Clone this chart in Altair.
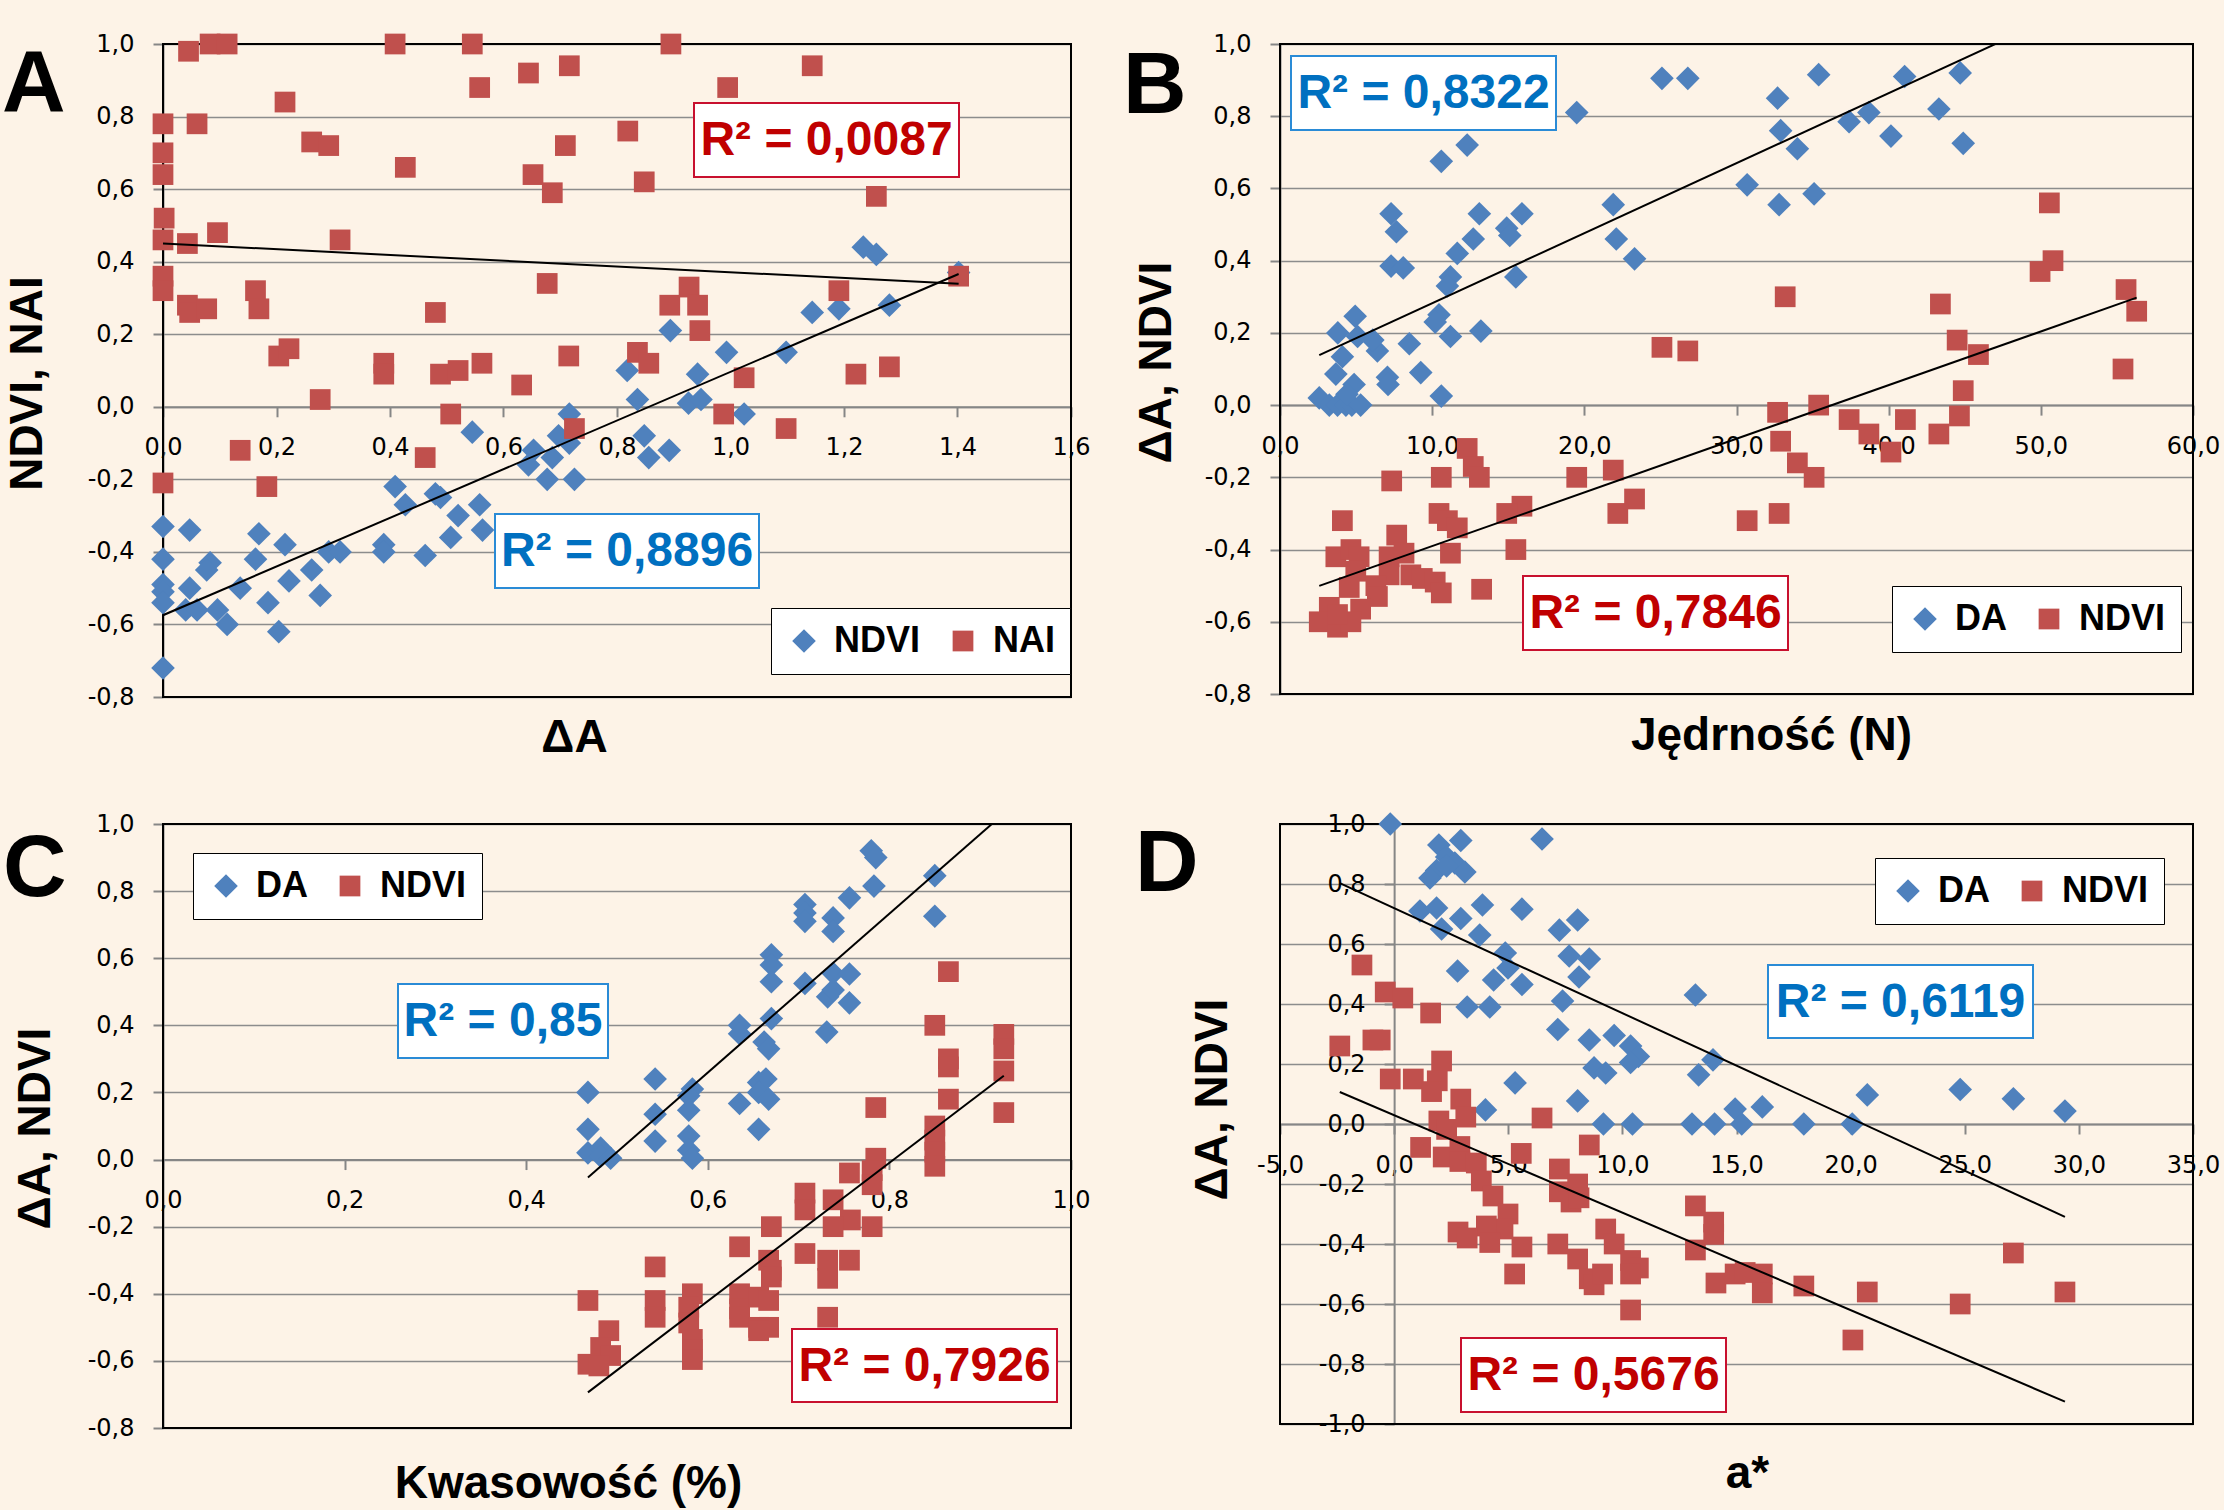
import altair as alt
import pandas as pd

# ---------------- data ----------------
# Panel A: x = ΔA, y = NDVI / NAI
a_ndvi_x = [0.894,0.818,0.836,0.716,0.697,0.716,0.848,0.856,0.892,0.545,0.653,0.644,0.686,0.677,0.725,
            0.409,0.427,0.48,0.489,0.558,0.52,0.563,0.507,0.389,0.389,0.462,0.292,0.312,0.0,0.047,0.169,
            0.215,0.163,0.083,0.077,0.0,0.262,0.222,0.136,0.047,0.0,0.0,0.0,0.277,0.185,0.04,0.06,0.096,
            0.113,0.204,0.0,1.234,1.257,1.402,1.28,1.144,1.191,1.098,0.993,0.942,0.926,0.948,1.024]
a_ndvi_y = [0.21,0.10,0.02,-0.02,-0.08,-0.10,-0.08,-0.14,-0.12,-0.07,-0.12,-0.16,-0.14,-0.20,-0.20,
            -0.22,-0.27,-0.24,-0.25,-0.27,-0.30,-0.34,-0.36,-0.38,-0.40,-0.41,-0.40,-0.40,-0.33,-0.34,-0.35,
            -0.38,-0.42,-0.43,-0.45,-0.42,-0.45,-0.48,-0.50,-0.50,-0.49,-0.51,-0.54,-0.52,-0.54,-0.56,-0.56,-0.56,
            -0.60,-0.62,-0.72,0.44,0.42,0.37,0.28,0.26,0.27,0.15,0.15,0.09,0.01,0.02,-0.02]
a_nai_x = [0.045,0.083,0.113,0.409,0.545,0.895,0.644,0.558,0.716,0.995,1.144,0.215,0.0,0.06,0.0,0.0,
           0.262,0.292,0.427,0.819,0.709,0.652,0.686,0.848,1.257,0.002,0.0,0.043,0.096,0.312,0.0,0.0,
           0.043,0.047,0.077,0.163,0.169,0.677,0.48,0.893,0.927,0.942,0.946,1.191,1.402,0.204,0.222,0.389,
           0.389,0.489,0.52,0.562,0.715,0.836,0.856,0.632,0.277,1.024,1.221,1.28,0.507,0.988,0.725,1.098,
           0.136,0.462,0.183,0.0]
a_nai_y = [0.98,1.0,1.0,1.0,1.0,1.0,0.92,0.88,0.94,0.88,0.94,0.84,0.78,0.78,0.70,0.64,
           0.73,0.72,0.66,0.76,0.72,0.64,0.59,0.62,0.58,0.52,0.46,0.45,0.48,0.46,0.36,0.32,
           0.28,0.26,0.27,0.32,0.27,0.34,0.26,0.28,0.33,0.28,0.21,0.32,0.36,0.14,0.16,0.12,
           0.09,0.09,0.10,0.12,0.14,0.15,0.12,0.06,0.02,0.08,0.09,0.11,-0.02,-0.02,-0.06,-0.06,
           -0.12,-0.14,-0.22,-0.21]

# Panel B: x = Jędrność (N)
b_da_x = [25.1,26.8,19.5,12.3,10.6,30.7,7.3,7.65,13.1,15.9,14.9,15.1,12.7,21.9,22.1,23.3,11.65,7.3,8.1,
          11.2,11.0,15.5,4.94,3.8,5.1,6.4,6.1,10.45,10.2,11.2,13.2,4.1,8.5,3.67,7.06,7.1,9.25,4.87,10.6,
          2.58,3.24,3.78,4.33,4.72,5.3,4.4,35.4,32.7,41.05,44.7,43.3,32.9,34.0,37.4,38.7,40.15,44.9,32.8,35.1]
b_da_y = [0.905,0.905,0.81,0.72,0.675,0.61,0.53,0.48,0.53,0.53,0.49,0.47,0.46,0.555,0.46,0.405,0.42,0.385,0.38,
          0.355,0.33,0.355,0.246,0.20,0.19,0.15,0.18,0.25,0.23,0.19,0.205,0.134,0.17,0.086,0.077,0.057,0.09,0.057,0.025,
          0.02,0.0,0.0,0.0,0.0,0.0,0.03,0.915,0.85,0.91,0.92,0.82,0.76,0.71,0.785,0.81,0.745,0.725,0.555,0.585]
b_ndvi_x = [25.1,26.8,12.3,12.7,13.1,10.6,7.34,19.5,21.9,23.3,22.2,15.9,14.9,15.5,10.45,11.0,11.65,11.2,4.1,
            7.67,13.25,3.67,4.66,5.2,7.17,8.15,4.98,7.17,8.6,9.35,10.2,10.6,6.3,4.55,6.4,5.3,3.24,2.58,3.78,
            4.66,3.78,50.56,50.8,49.95,55.6,56.3,55.4,33.2,43.4,44.5,45.9,44.9,44.65,43.3,35.4,32.7,32.9,34.0,
            35.1,37.4,38.7,40.15,41.1,30.7,32.8]
b_ndvi_y = [0.16,0.15,-0.12,-0.17,-0.20,-0.20,-0.21,-0.20,-0.18,-0.26,-0.30,-0.28,-0.30,-0.40,-0.30,-0.32,-0.34,-0.41,-0.32,
            -0.36,-0.51,-0.42,-0.40,-0.42,-0.42,-0.41,-0.46,-0.47,-0.47,-0.48,-0.49,-0.52,-0.50,-0.505,-0.53,-0.565,-0.56,-0.60,-0.615,
            -0.60,-0.58,0.56,0.40,0.37,0.32,0.26,0.10,0.30,0.28,0.18,0.14,0.04,-0.03,-0.08,0.0,-0.02,-0.10,-0.16,
            -0.20,-0.04,-0.08,-0.13,-0.04,-0.32,-0.30]

# Panel C: x = Kwasowość (%)
c_da_x = [0.780,0.785,0.85,0.85,0.783,0.756,0.707,0.707,0.707,0.738,0.738,0.67,0.67,0.67,0.707,0.738,0.756,
          0.732,0.738,0.756,0.731,0.67,0.635,0.635,0.662,0.667,0.542,0.583,0.579,0.579,0.635,0.656,0.664,0.656,
          0.667,0.656,0.542,0.542,0.468,0.468,0.468,0.482,0.482,0.493,0.579,0.579,0.583]
c_da_y = [0.92,0.90,0.846,0.725,0.815,0.78,0.76,0.735,0.71,0.72,0.68,0.61,0.58,0.53,0.525,0.555,0.553,
          0.485,0.505,0.467,0.38,0.42,0.40,0.375,0.35,0.33,0.24,0.21,0.19,0.147,0.167,0.23,0.24,0.20,
          0.18,0.09,0.135,0.055,0.20,0.09,0.02,0.034,0.01,0.004,0.07,0.028,0.004]
c_ndvi_x = [0.865,0.85,0.926,0.926,0.926,0.926,0.865,0.865,0.865,0.85,0.85,0.85,0.85,0.785,0.785,0.781,0.781,
            0.781,0.756,0.757,0.738,0.738,0.707,0.707,0.707,0.732,0.756,0.732,0.732,0.67,0.635,0.667,0.67,0.67,
            0.635,0.635,0.635,0.656,0.667,0.656,0.667,0.656,0.542,0.542,0.542,0.583,0.579,0.579,0.583,0.583,
            0.583,0.468,0.491,0.482,0.493,0.468,0.48]
c_ndvi_y = [0.56,0.40,0.373,0.33,0.264,0.14,0.30,0.276,0.18,0.10,0.058,0.022,-0.02,0.155,0.004,-0.033,-0.075,
            -0.20,-0.04,-0.18,-0.12,-0.20,-0.10,-0.15,-0.28,-0.30,-0.30,-0.354,-0.47,-0.20,-0.26,-0.30,-0.33,-0.35,
            -0.40,-0.445,-0.47,-0.41,-0.42,-0.50,-0.50,-0.51,-0.32,-0.42,-0.47,-0.40,-0.44,-0.487,-0.536,-0.566,
            -0.596,-0.42,-0.51,-0.56,-0.584,-0.61,-0.615]

# Panel D: x = a*
d_da_x = [-0.17,6.48,1.96,2.92,2.3,2.66,3.1,1.86,1.57,2.3,1.13,1.86,2.08,2.92,3.87,3.75,5.6,7.24,8.04,
          4.87,4.99,7.67,8.55,8.1,2.78,4.36,5.6,3.2,4.19,7.38,7.17,8.55,9.64,13.2,10.36,10.7,10.36,8.76,9.27,
          13.97,13.34,5.3,8.04,4.0,9.17,10.44,13.05,14.04,14.94,15.23,16.13,17.95,20.07,20.73,24.8,27.13,29.39]
d_da_y = [1.0,0.95,0.93,0.945,0.89,0.87,0.84,0.845,0.82,0.86,0.71,0.72,0.65,0.685,0.73,0.63,0.716,0.646,0.68,
          0.57,0.52,0.56,0.55,0.49,0.51,0.48,0.465,0.39,0.39,0.41,0.315,0.28,0.295,0.43,0.26,0.225,0.205,0.187,0.17,
          0.214,0.164,0.137,0.077,0.047,0.0,0.0,0.0,0.0,0.05,0.0,0.057,0.0,0.0,0.097,0.115,0.084,0.043]
d_ndvi_x = [-1.41,-0.39,0.38,1.6,-2.38,-0.93,-0.61,2.08,-0.17,0.84,1.89,1.64,2.92,3.14,6.48,1.96,2.3,1.16,2.15,2.88,
            2.88,3.6,5.57,8.55,3.82,4.33,7.24,7.24,8.04,7.75,8.1,4.99,4.77,4.04,2.8,3.2,4.19,5.6,7.17,5.28,
            9.27,9.64,8.04,8.55,8.76,9.13,10.36,10.7,10.36,10.36,13.2,14.0,14.0,13.2,14.1,14.94,15.38,16.13,16.13,
            27.13,17.95,20.73,24.8,29.39,20.1]
d_ndvi_y = [0.53,0.44,0.42,0.37,0.26,0.28,0.28,0.21,0.15,0.15,0.144,0.108,0.083,0.023,0.02,0.01,-0.018,-0.078,-0.11,-0.075,
            -0.125,-0.13,-0.098,-0.07,-0.19,-0.24,-0.15,-0.226,-0.20,-0.26,-0.246,-0.30,-0.35,-0.34,-0.36,-0.38,-0.395,-0.41,-0.40,-0.50,
            -0.35,-0.40,-0.45,-0.516,-0.536,-0.50,-0.455,-0.48,-0.50,-0.62,-0.273,-0.327,-0.368,-0.42,-0.53,-0.50,-0.495,-0.50,-0.563,
            -0.43,-0.54,-0.56,-0.60,-0.56,-0.72]

# tick values
ticks_y_08 = [-0.8, -0.6, -0.4, -0.2, 0.0, 0.2, 0.4, 0.6, 0.8, 1.0]
ticks_y_10 = [-1.0, -0.8, -0.6, -0.4, -0.2, 0.0, 0.2, 0.4, 0.6, 0.8, 1.0]
ticks_x_a = [0.0, 0.2, 0.4, 0.6, 0.8, 1.0, 1.2, 1.4, 1.6]
ticks_x_b = [0, 10, 20, 30, 40, 50, 60]
ticks_x_c = [0.0, 0.2, 0.4, 0.6, 0.8, 1.0]
ticks_x_d = [-5, 0, 5, 10, 15, 20, 25, 30, 35]

# R² annotations (text shown in the reference)
r2_a = ["R² = 0,8896", "R² = 0,0087"]
r2_b = ["R² = 0,8322", "R² = 0,7846"]
r2_c = ["R² = 0,85", "R² = 0,7926"]
r2_d = ["R² = 0,6119", "R² = 0,5676"]

# ---------------- styles ----------------
BG = "#FDF3E7"
BLUE = "#4F81BD"
RED = "#C0504D"
TXT_BLUE = "#0070C0"
BOX_BLUE = "#2A8BD6"
TXT_RED = "#C00000"
BOX_RED = "#C8102E"
BOLD_FONT = "Liberation Sans"
LBL = "replace(replace(format(datum.value, '.1f'), '.', ','), '\u2212', '-')"
PAGE_W, PAGE_H = 2224, 1510
ORIGIN_X, ORIGIN_Y = 163, 44


def one(t):
    return pd.DataFrame({"t": [t]})


def make_panel(series, xdom, xvals, ydom, yvals, W, H, xtitle, xt_pos, ytitle, yt_pos,
               y_at_zero, legend_xy, boxes, letter, letter_xy):
    names = [s[0] for s in series]
    rows = []
    for name, xs, ys in series:
        rows += [{"series": name, "x": a, "y": b} for a, b in zip(xs, ys)]
    df = pd.DataFrame(rows)
    ext = [float(df["x"].min()), float(df["x"].max())]

    y0_px = H * (ydom[1] - 0) / (ydom[1] - ydom[0])
    x_off = -(H - y0_px)
    x0_px = W * (0 - xdom[0]) / (xdom[1] - xdom[0]) if y_at_zero else 0.0
    y_off = -x0_px

    x_enc = alt.X("x:Q",
                  scale=alt.Scale(domain=xdom, nice=False, zero=False),
                  axis=alt.Axis(values=xvals, grid=False, offset=x_off, title=xtitle,
                                titleX=xt_pos[0], titleY=xt_pos[1] - y0_px,
                                titleAlign="center", titleBaseline="middle",
                                labelExpr=LBL, labelFlush=False, labelOverlap=False))
    y_enc = alt.Y("y:Q",
                  scale=alt.Scale(domain=ydom, nice=False, zero=False),
                  axis=alt.Axis(values=yvals, grid=True, offset=y_off, title=ytitle,
                                titleX=yt_pos[0] - x0_px, titleY=yt_pos[1], titleAngle=270,
                                titleAlign="center", titleBaseline="middle",
                                labelExpr=LBL, labelOverlap=False))

    leg = alt.Legend(title=None, orient="none", legendX=legend_xy[0], legendY=legend_xy[1],
                     direction="horizontal", fillColor="white", strokeColor="black",
                     padding=15, labelFont=BOLD_FONT, labelFontWeight="bold", labelFontSize=36,
                     labelColor="black", columnPadding=24, labelOffset=12,
                     symbolStrokeWidth=0, symbolOpacity=1)

    frame = alt.Chart(one("")).mark_rect(fill="white", fillOpacity=0, stroke="black", strokeWidth=2).encode(
        x=alt.value(0), x2=alt.value(W), y=alt.value(0), y2=alt.value(H))

    pts = alt.Chart(df).mark_point(filled=True, opacity=1).encode(
        x=x_enc, y=y_enc,
        color=alt.Color("series:N", scale=alt.Scale(domain=names, range=[BLUE, RED]), legend=leg),
        shape=alt.Shape("series:N", scale=alt.Scale(domain=names, range=["diamond", "square"]), legend=leg),
        size=alt.Size("series:N", scale=alt.Scale(domain=names, range=[560, 430]), legend=leg),
    )

    reg = alt.Chart(df).transform_regression("x", "y", groupby=["series"], extent=ext).mark_line(
        color="black", strokeWidth=2, clip=True).encode(x=x_enc, y=y_enc, detail="series:N")

    layers = [frame, pts, reg]
    for (label, tcol, bcol, x1, y1, x2, y2) in boxes:
        layers.append(alt.Chart(one(label)).mark_rect(fill="white", stroke=bcol, strokeWidth=2).encode(
            x=alt.value(x1), x2=alt.value(x2), y=alt.value(y1), y2=alt.value(y2)))
        layers.append(alt.Chart(one(label)).mark_text(
            font=BOLD_FONT, fontWeight="bold", fontSize=48, color=tcol, align="center",
            baseline="middle").encode(x=alt.value((x1 + x2) / 2), y=alt.value((y1 + y2) / 2 + 1), text="t:N"))
    layers.append(alt.Chart(one(letter)).mark_text(
        font=BOLD_FONT, fontWeight="bold", fontSize=88, color="black", align="left",
        baseline="alphabetic").encode(x=alt.value(letter_xy[0]), y=alt.value(letter_xy[1]), text="t:N"))

    return alt.layer(*layers).properties(width=W, height=H)


pA = make_panel([("NDVI", a_ndvi_x, a_ndvi_y), ("NAI", a_nai_x, a_nai_y)],
                [0, 1.6], ticks_x_a, [-0.8, 1.0], ticks_y_08, 908, 653,
                "ΔA", (411, 693), "NDVI, NAI", (-136, 339), False, (608, 564),
                [(r2_a[0], TXT_BLUE, BOX_BLUE, 332, 470, 596, 544),
                 (r2_a[1], TXT_RED, BOX_RED, 531, 59, 796, 133)],
                "A", (-161, 67))
pB = make_panel([("DA", b_da_x, b_da_y), ("NDVI", b_ndvi_x, b_ndvi_y)],
                [0, 60], ticks_x_b, [-0.8, 1.0], ticks_y_08, 913, 650,
                "Jędrność (N)", (491, 691), "ΔA, NDVI", (-124, 318), False, (612, 542),
                [(r2_b[0], TXT_BLUE, BOX_BLUE, 11, 12, 276, 86),
                 (r2_b[1], TXT_RED, BOX_RED, 243, 532, 508, 606)],
                "B", (-157, 69))
pC = make_panel([("DA", c_da_x, c_da_y), ("NDVI", c_ndvi_x, c_ndvi_y)],
                [0, 1.0], ticks_x_c, [-0.8, 1.0], ticks_y_08, 908, 604,
                "Kwasowość (%)", (405, 659), "ΔA, NDVI", (-128, 304), False, (30, 29),
                [(r2_c[0], TXT_BLUE, BOX_BLUE, 235, 160, 445, 234),
                 (r2_c[1], TXT_RED, BOX_RED, 629, 505, 894, 578)],
                "C", (-160, 72))
pD = make_panel([("DA", d_da_x, d_da_y), ("NDVI", d_ndvi_x, d_ndvi_y)],
                [-5, 35], ticks_x_d, [-1.0, 1.0], ticks_y_10, 913, 600,
                "a*", (467, 649), "ΔA, NDVI", (-68, 275), True, (595, 34),
                [(r2_d[0], TXT_BLUE, BOX_BLUE, 488, 141, 753, 214),
                 (r2_d[1], TXT_RED, BOX_RED, 181, 514, 446, 588)],
                "D", (-145, 67))

chart = alt.concat(pA, pB, pC, pD, columns=2, spacing={"row": 127, "column": 209}, bounds="flush").resolve_scale(
    color="independent", shape="independent", size="independent"
).properties(
    background=BG,
    autosize=alt.AutoSizeParams(type="none"),
    padding={"left": ORIGIN_X, "top": ORIGIN_Y,
             "right": PAGE_W - ORIGIN_X, "bottom": PAGE_H - ORIGIN_Y},
).configure_axis(
    labelFont="DejaVu Sans", labelFontSize=24, labelColor="black", labelPadding=19,
    domainColor="#868686", domainWidth=2, tickColor="#868686", tickWidth=2, tickSize=10,
    gridColor="#8C8C8C", gridWidth=1.5,
    titleFont=BOLD_FONT, titleFontSize=46, titleFontWeight="bold", titleColor="black",
).configure_view(stroke="transparent")

chart.save("out.html", embed_options={"renderer": "svg", "actions": False})
